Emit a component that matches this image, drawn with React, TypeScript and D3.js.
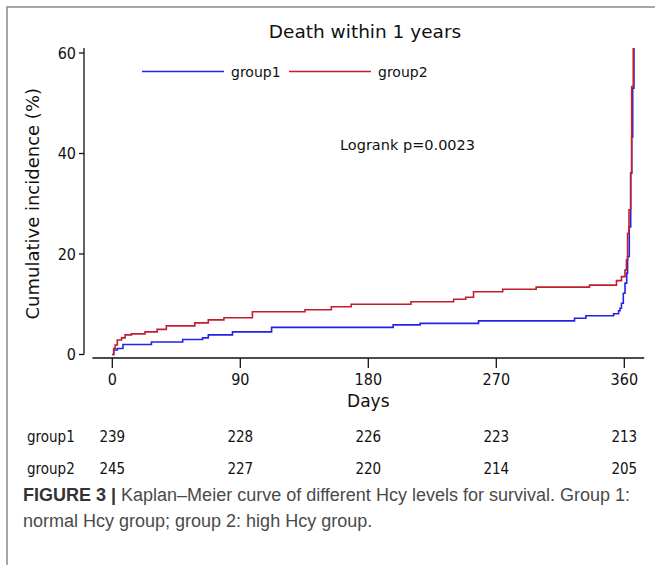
import React from 'react';
import * as d3 from 'd3';

// step points: [day, cumulative incidence %]
const group1: [number, number][] = [
  [0, 0], [1, 0.9], [3.5, 1.2], [7.5, 2.0], [27.5, 2.5], [49.5, 3.0], [63.5, 3.3],
  [67.5, 3.9], [84.5, 4.5], [112, 5.4], [197.5, 5.9], [216.5, 6.2], [257.5, 6.7],
  [325, 7.2], [333, 7.7], [352.5, 8.1], [356, 8.7], [357, 9.2], [358, 10.2],
  [359.3, 12.2], [360.5, 14.2], [361.7, 16.2], [362.3, 19.5], [363.5, 25.4],
  [364.5, 36.1], [365.2, 43.3], [365.9, 53], [366.8, 61],
];
const group2: [number, number][] = [
  [0, 0], [1, 1.2], [2, 1.9], [3.5, 2.9], [6.5, 3.3], [9, 3.9], [13.5, 4.1],
  [23, 4.5], [31.5, 5.0], [38, 5.7], [58, 6.3], [67.5, 6.9], [78.5, 7.3],
  [98.5, 8.5], [135.5, 8.9], [154, 9.5], [168, 10.0], [210, 10.5], [240, 11.0],
  [248.5, 11.4], [254, 12.5], [274.5, 13.0], [298, 13.4], [335.5, 13.8],
  [354.5, 14.7], [358, 15.5], [360.5, 16.8], [361.5, 18.8], [362.3, 24.1],
  [363.3, 28.8], [364.5, 36.1], [365.2, 53.3], [366.3, 61],
];
const xTicks = [0, 90, 180, 270, 360];
const yTicks = [0, 20, 40, 60];
const groupNames = ['group1', 'group2'];
const atRisk1 = [239, 228, 226, 223, 213];
const atRisk2 = [245, 227, 220, 214, 205];
const colors = ['#2323e6', '#c21f2e'];

const chartFont = '"DejaVu Sans Condensed", "DejaVu Sans", sans-serif';
const plainFont = '"DejaVu Sans", sans-serif';
const captionFont = '"Liberation Sans", Arial, sans-serif';

export default function App() {
  const x = d3.scaleLinear().domain([0, 360]).range([112.3, 624.3]);
  const y = d3.scaleLinear().domain([0, 60]).range([354.5, 53]);

  const step = d3
    .line<[number, number]>()
    .x(d => x(d[0]))
    .y(d => y(d[1]))
    .curve(d3.curveStepAfter);

  const xAxisY = 358;
  const yAxisX = 84;

  return (
    <svg
      width={655}
      height={565}
      style={{ position: 'absolute', left: 0, top: 0, background: '#fff' }}
    >
      <rect x={7} y={7} width={700} height={600} fill="none" stroke="#8a8a8a" strokeWidth={1.5} />

      <text x={365} y={38} textAnchor="middle" fontFamily={plainFont} fontSize={18.5} fill="#111">
        Death within 1 years
      </text>

      {/* y axis */}
      <line x1={yAxisX} x2={yAxisX} y1={y(61)} y2={y(0)} stroke="#111" strokeWidth={1.3} />
      {yTicks.map(t => (
        <g key={t}>
          <line x1={yAxisX - 5} x2={yAxisX} y1={y(t)} y2={y(t)} stroke="#111" strokeWidth={1.3} />
          <text x={yAxisX - 8} y={y(t)} dy="0.36em" textAnchor="end" fontFamily={chartFont} fontSize={16} fill="#111">
            {t}
          </text>
        </g>
      ))}
      <text
        transform={`translate(33,${y(30)}) rotate(-90)`}
        textAnchor="middle"
        dy="0.36em"
        fontFamily={plainFont}
        fontSize={18}
        fill="#111"
      >
        Cumulative incidence (%)
      </text>

      {/* x axis */}
      <line x1={x(-14)} x2={x(374)} y1={xAxisY} y2={xAxisY} stroke="#111" strokeWidth={1.3} />
      {xTicks.map(t => (
        <g key={t}>
          <line x1={x(t)} x2={x(t)} y1={xAxisY} y2={xAxisY + 10} stroke="#111" strokeWidth={1.3} />
          <text x={x(t)} y={379} dy="0.36em" textAnchor="middle" fontFamily={chartFont} fontSize={16} fill="#111">
            {t}
          </text>
        </g>
      ))}
      <text x={x(180)} y={401} dy="0.36em" textAnchor="middle" fontFamily={plainFont} fontSize={17} fill="#111">
        Days
      </text>

      {/* curves */}
      <path d={step(group1) ?? ''} fill="none" stroke={colors[0]} strokeWidth={1.6} />
      <path d={step(group2) ?? ''} fill="none" stroke={colors[1]} strokeWidth={1.6} />

      {/* legend */}
      <line x1={142} x2={224} y1={71.5} y2={71.5} stroke={colors[0]} strokeWidth={1.6} />
      <text x={231} y={71.5} dy="0.36em" fontFamily={plainFont} fontSize={14} fill="#111">
        {groupNames[0]}
      </text>
      <line x1={289} x2={371} y1={71.5} y2={71.5} stroke={colors[1]} strokeWidth={1.6} />
      <text x={378} y={71.5} dy="0.36em" fontFamily={plainFont} fontSize={14} fill="#111">
        {groupNames[1]}
      </text>

      <text x={340} y={145} dy="0.36em" fontFamily={plainFont} fontSize={14.5} fill="#111">
        Logrank p=0.0023
      </text>

      {/* numbers at risk */}
      {[atRisk1, atRisk2].map((row, i) => (
        <g key={i}>
          <text x={27} y={437 + i * 32} dy="0.36em" fontFamily={chartFont} fontSize={15} fill="#111">
            {groupNames[i]}
          </text>
          {row.map((v, j) => (
            <text key={j} x={x(xTicks[j])} y={437 + i * 32} dy="0.36em" textAnchor="middle" fontFamily={chartFont} fontSize={15} fill="#111">
              {v}
            </text>
          ))}
        </g>
      ))}

      {/* caption */}
      <text x={23} y={501} fontFamily={captionFont} fontSize={18} fill="#4a4a4a">
        <tspan fontWeight="bold" fill="#333">FIGURE 3 |</tspan>
        <tspan> Kaplan–Meier curve of different Hcy levels for survival. Group 1:</tspan>
      </text>
      <text x={23} y={527} fontFamily={captionFont} fontSize={18} fill="#4a4a4a">
        normal Hcy group; group 2: high Hcy group.
      </text>
    </svg>
  );
}
